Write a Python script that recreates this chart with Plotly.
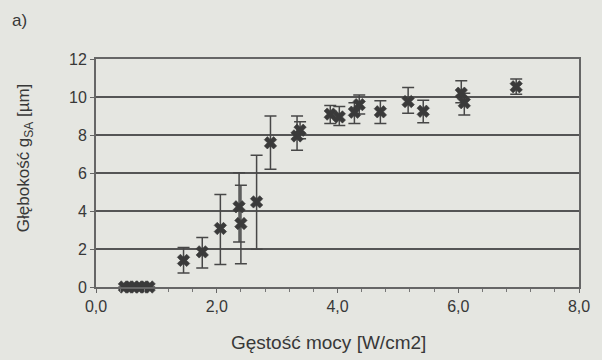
import plotly.graph_objects as go

# data
x_vals = [0.47, 0.55, 0.63, 0.72, 0.80, 0.88,
          1.45, 1.76, 2.06, 2.37, 2.40, 2.66, 2.89, 3.33, 3.38,
          3.88, 4.03, 4.28, 4.36, 4.71, 5.17, 5.42, 6.05, 6.10, 6.96]
y_vals = [0, 0, 0, 0, 0, 0,
          1.40, 1.85, 3.08, 4.22, 3.34, 4.48, 7.59, 7.95, 8.25,
          9.10, 8.95, 9.20, 9.60, 9.22, 9.76, 9.25, 10.20, 9.70, 10.54]
err_plus = [0, 0, 0, 0, 0, 0,
            0.68, 0.75, 1.79, 1.79, 2.02, 2.46, 1.41, 1.05, 0.45,
            0.45, 0.55, 0.50, 0.50, 0.58, 0.74, 0.58, 0.66, 0.50, 0.41]
err_minus = [0, 0, 0, 0, 0, 0,
             0.66, 0.85, 1.90, 1.85, 2.11, 2.49, 1.39, 0.75, 0.45,
             0.50, 0.45, 0.60, 0.50, 0.62, 0.62, 0.60, 0.50, 0.65, 0.40]

x_tickvals = [0, 2, 4, 6, 8]
x_ticktext = ["0,0", "2,0", "4,0", "6,0", "8,0"]
y_tickvals = [0, 2, 4, 6, 8, 10, 12]
y_ticktext = ["0", "2", "4", "6", "8", "10", "12"]

BG = "#e5e6e1"
INK = "#3a3a3a"
TXT = "#383838"
FONT = "Liberation Sans, Arial, sans-serif"

fig = go.Figure()
fig.add_trace(go.Scatter(
    x=x_vals, y=y_vals, mode="markers", cliponaxis=False,
    marker=dict(symbol="x", size=11, color=INK, line=dict(width=0.6, color=INK)),
    error_y=dict(type="data", symmetric=False, array=err_plus, arrayminus=err_minus,
                 color="#474747", thickness=1.5, width=6),
    showlegend=False))

fig.update_layout(
    width=602, height=360,
    margin=dict(l=96, r=15, t=59, b=73),
    paper_bgcolor=BG, plot_bgcolor=BG,
    font=dict(family=FONT, color=TXT, size=16),
    xaxis=dict(range=[0, 8], tickvals=x_tickvals, ticktext=x_ticktext,
               showgrid=False, zeroline=False, showline=True, mirror=True,
               linecolor="#666666", linewidth=2, ticks="outside", ticklen=4,
               tickcolor="#666666",
               minor=dict(dtick=0.4, ticks="outside", ticklen=3, tickcolor="#777777"),
               tickfont=dict(size=16)),
    yaxis=dict(range=[0, 12], tickvals=y_tickvals, ticktext=y_ticktext,
               showgrid=True, gridcolor="#555555", gridwidth=1.5,
               zeroline=False, showline=True, mirror=True,
               linecolor="#666666", linewidth=2, ticks="outside", ticklen=4,
               tickcolor="#666666", tickfont=dict(size=16)),
)

pw, ph = 602 - 96 - 15, 360 - 59 - 73
def px(xp):
    return (xp - 96) / pw
def py(yp):
    return (360 - 73 - yp) / ph

fig.update_layout(annotations=[
    dict(text="a)", x=px(9), y=py(21), xref="paper", yref="paper", showarrow=False,
         xanchor="left", yanchor="middle", font=dict(size=17, color=TXT)),
    dict(text="Głębokość g<sub>SA</sub> [µm]", x=px(24), y=py(158), xref="paper", yref="paper",
         showarrow=False, textangle=-90, xanchor="center", yanchor="middle",
         font=dict(size=17, color=TXT)),
    dict(text="Gęstość mocy [W/cm2]", x=px(332), y=py(342), xref="paper", yref="paper",
         showarrow=False, xanchor="center", yanchor="middle",
         font=dict(size=19, color=TXT)),
])

fig.write_html("out.html")
